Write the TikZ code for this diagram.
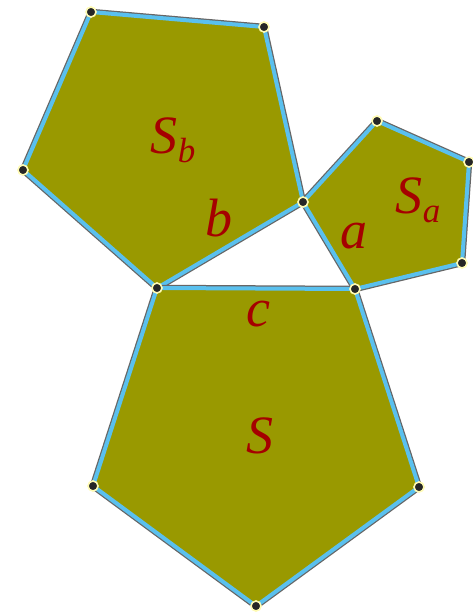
\documentclass[tikz,border=0pt]{standalone}
\usepackage{fontspec}
\setmainfont{Liberation Serif}
\definecolor{olivefill}{RGB}{153,153,0}
\definecolor{edgeblue}{RGB}{90,192,238}
\definecolor{labelred}{RGB}{165,0,0}
\newcommand{\lowsub}[1]{\raisebox{-0.35ex}{\fontsize{35}{40}\selectfont #1}}

\begin{document}
\begin{tikzpicture}[x=1pt,y=-1pt,
  shadowline/.style={draw=black!60,line width=6.5pt,line join=round},
  face/.style={fill=olivefill},
  rim/.style={draw=edgeblue,line width=4pt,line join=round},
  vertex/.style={circle,fill=black!85,draw=yellow!30!white,line width=1.6pt,inner sep=0pt,minimum size=10pt},
  lbl/.style={text=labelred,font=\fontsize{54}{60}\selectfont\itshape,inner sep=0pt}]
  \useasboundingbox (0,0) rectangle (472,615);
  % right triangle
  \coordinate (B) at (157,288); \coordinate (A) at (355,289); \coordinate (C) at (303,202);
  % pentagon on b
  \coordinate (b3) at (264,27); \coordinate (b4) at (91,12); \coordinate (b5) at (23,170);
  % pentagon on a
  \coordinate (a3) at (462,263); \coordinate (a4) at (469,162); \coordinate (a5) at (377,121);
  % pentagon on c
  \coordinate (c3) at (419,487); \coordinate (c4) at (256,606); \coordinate (c5) at (93,486);
  \foreach \p in {{(B)--(C)--(b3)--(b4)--(b5)--cycle},{(C)--(A)--(a3)--(a4)--(a5)--cycle},{(B)--(A)--(c3)--(c4)--(c5)--cycle}}{
    \draw[shadowline] \p; \fill[face] \p; \draw[rim] \p;
  }
  \foreach \v in {B,A,C,b3,b4,b5,a3,a4,a5,c3,c4,c5} \node[vertex] (v\v) at (\v) {};
  \node[lbl] (Sb) at (173,140) {S\lowsub{b}};
  \node[lbl] (lb) at (219,218) {b};
  \node[lbl] (Sa) at (418,200) {S\lowsub{a}};
  \node[lbl] (la) at (354,236) {a};
  \node[lbl] (lc) at (258,314) {c};
  \node[lbl] (S) at (260,436) {S};
\end{tikzpicture}
\end{document}
